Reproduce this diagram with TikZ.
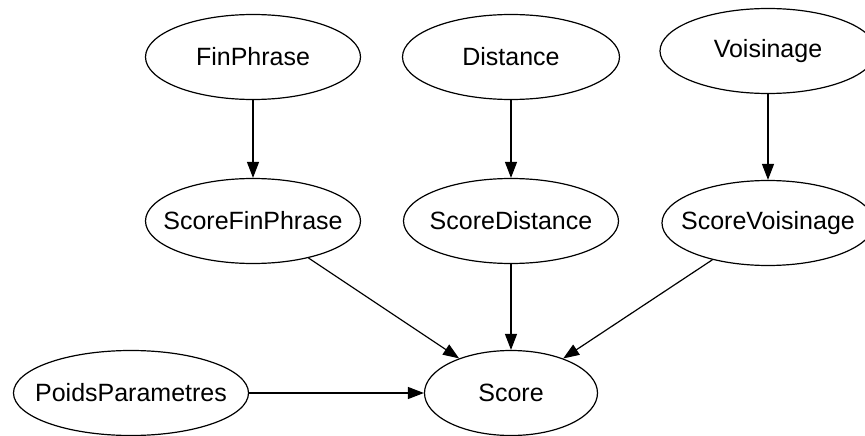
\documentclass[tikz,border=0pt]{standalone}
\usepackage{fontspec}
\setmainfont{Liberation Sans}
\usetikzlibrary{shapes.geometric,arrows.meta}
\begin{document}
\begin{tikzpicture}[x=1pt,y=-1pt,
  vnode/.style={ellipse,draw,line width=1.2pt,inner sep=0pt,minimum height=85pt,
    label={[font=\fontsize{25}{30}\selectfont,inner sep=0pt]center:#1}},
  edge/.style={line width=1.2pt,-{Triangle[length=16pt,width=12pt]}}]
\clip (0,0) rectangle (865,436);
\useasboundingbox (0,0) rectangle (865,436);
\node[vnode=FinPhrase,minimum width=215pt] (fp) at (253,57) {};
\node[vnode=Distance,minimum width=217pt] (di) at (511,57) {};
\node[vnode=Voisinage,minimum width=216pt] (vo) at (768,51) {};
\node[vnode=ScoreFinPhrase,minimum width=215pt] (sfp) at (253,221) {};
\node[vnode=ScoreDistance,minimum width=215pt] (sdi) at (511,221) {};
\node[vnode=ScoreVoisinage,minimum width=212pt] (svo) at (768,223) {};
\node[vnode=Score,minimum width=173pt] (sc) at (511,393) {};
\node[vnode=PoidsParametres,minimum width=235pt] (pp) at (131,393) {};
\draw[edge] (fp) -- (sfp);
\draw[edge] (di) -- (sdi);
\draw[edge] (vo) -- (svo);
\draw[edge] (sfp) -- (sc);
\draw[edge] (sdi) -- (sc);
\draw[edge] (svo) -- (sc);
\draw[edge] (pp) -- (sc);
\end{tikzpicture}
\end{document}
